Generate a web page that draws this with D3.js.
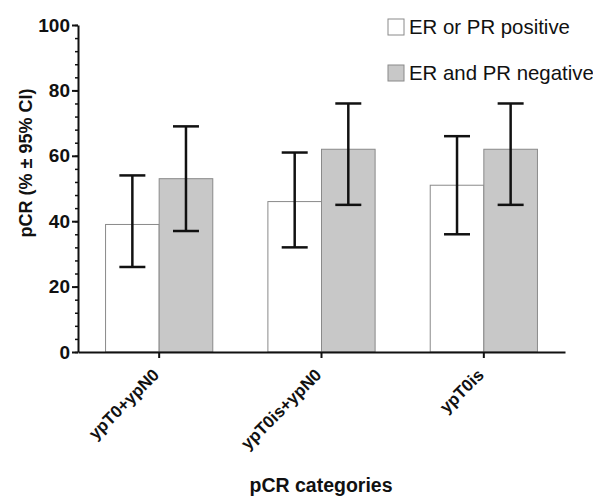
<!DOCTYPE html>
<html>
<head>
<meta charset="utf-8">
<script src="https://cdn.jsdelivr.net/npm/d3@7"></script>
<style>
  body { margin: 0; background: #fff; }
  svg { display: block; font-family: "Liberation Sans", Arial, sans-serif; }
</style>
</head>
<body>
<svg id="chart" width="593" height="496"></svg>
<script>
const categories = ["ypT0+ypN0", "ypT0is+ypN0", "ypT0is"];
const seriesNames = ["ER or PR positive", "ER and PR negative"];
const positiveValues = [39, 46, 51];
const positiveLower = [26, 32, 36];
const positiveUpper = [54, 61, 66];
const negativeValues = [53, 62, 62];
const negativeLower = [37, 45, 45];
const negativeUpper = [69, 76, 76];
const yTicks = [0, 20, 40, 60, 80, 100];
const yMinorTicks = d3.range(0, 101, 4);
const seriesColors = ["#ffffff", "#c8c8c8"];

const svg = d3.select("#chart");
const plotLeft = 78, plotRight = 565, plotTop = 25, plotBottom = 352;

const y = d3.scaleLinear().domain([0, 100]).range([plotBottom, plotTop]);
const x0 = d3.scaleBand().domain(categories).range([plotLeft, plotRight]).paddingInner(0).paddingOuter(0);
const x1 = d3.scaleBand().domain(seriesNames).range([0, x0.bandwidth()]).paddingInner(0).paddingOuter(0.514);

const rows = categories.map((c, i) => ({
  cat: c,
  items: [
    { s: seriesNames[0], v: positiveValues[i], lo: positiveLower[i], hi: positiveUpper[i], color: seriesColors[0] },
    { s: seriesNames[1], v: negativeValues[i], lo: negativeLower[i], hi: negativeUpper[i], color: seriesColors[1] }
  ]
}));

// bars
const g = svg.append("g");
const groups = g.selectAll("g.grp").data(rows).join("g")
  .attr("transform", d => `translate(${x0(d.cat)},0)`);
groups.selectAll("rect").data(d => d.items).join("rect")
  .attr("x", d => x1(d.s))
  .attr("width", x1.bandwidth())
  .attr("y", d => y(d.v))
  .attr("height", d => y(0) - y(d.v))
  .attr("fill", d => d.color)
  .attr("stroke", "#8a8a8a")
  .attr("stroke-width", 1);

// error bars
const cap = 13;
const eb = groups.selectAll("g.eb").data(d => d.items).join("g")
  .attr("stroke", "#111").attr("stroke-width", 2.5).attr("fill", "none");
eb.append("line")
  .attr("x1", d => x1(d.s) + x1.bandwidth() / 2).attr("x2", d => x1(d.s) + x1.bandwidth() / 2)
  .attr("y1", d => y(d.lo)).attr("y2", d => y(d.hi));
eb.append("line")
  .attr("x1", d => x1(d.s) + x1.bandwidth() / 2 - cap).attr("x2", d => x1(d.s) + x1.bandwidth() / 2 + cap)
  .attr("y1", d => y(d.hi)).attr("y2", d => y(d.hi));
eb.append("line")
  .attr("x1", d => x1(d.s) + x1.bandwidth() / 2 - cap).attr("x2", d => x1(d.s) + x1.bandwidth() / 2 + cap)
  .attr("y1", d => y(d.lo)).attr("y2", d => y(d.lo));

// y axis minor ticks
const yMinor = svg.append("g").attr("transform", `translate(${plotLeft},0)`)
  .call(d3.axisLeft(y).tickValues(yMinorTicks).tickSize(3).tickFormat(""));
yMinor.select(".domain").remove();
yMinor.selectAll("line").attr("stroke", "#111").attr("stroke-width", 1.5);

// y axis major
const yAxis = svg.append("g").attr("transform", `translate(${plotLeft},0)`)
  .call(d3.axisLeft(y).tickValues(yTicks).tickSize(6).tickPadding(2).tickSizeOuter(0));
yAxis.select(".domain").attr("stroke", "#111").attr("stroke-width", 2);
yAxis.selectAll(".tick line").attr("stroke", "#111").attr("stroke-width", 2);
yAxis.selectAll(".tick text").attr("font-size", 19).attr("font-weight", "bold")
  .attr("font-family", "Liberation Sans, Arial, sans-serif").attr("fill", "#111");

// x axis
const xAxis = svg.append("g").attr("transform", `translate(0,${plotBottom})`)
  .call(d3.axisBottom(x0).tickSize(6).tickSizeOuter(0).tickFormat(""));
xAxis.select(".domain").attr("stroke", "#111").attr("stroke-width", 2);
xAxis.selectAll(".tick line").attr("stroke", "#111").attr("stroke-width", 2);

svg.append("g").selectAll("text").data(categories).join("text")
  .attr("transform", d => `translate(${x0(d) + x0.bandwidth() / 2 + 1},${plotBottom + 24}) rotate(-45)`)
  .attr("text-anchor", "end")
  .attr("font-size", 17).attr("font-weight", "bold").attr("fill", "#111")
  .text(d => d);

// axis titles
svg.append("text")
  .attr("transform", `translate(32,163) rotate(-90)`)
  .attr("text-anchor", "middle")
  .attr("font-size", 18).attr("font-weight", "bold").attr("fill", "#111")
  .text("pCR (% \u00B1 95% CI)");

svg.append("text")
  .attr("x", 321).attr("y", 492)
  .attr("text-anchor", "middle")
  .attr("font-size", 19.5).attr("font-weight", "bold").attr("fill", "#111")
  .text("pCR categories");

// legend
const legend = svg.append("g").selectAll("g").data(seriesNames).join("g")
  .attr("transform", (d, i) => `translate(388,${19 + i * 46})`);
legend.append("rect")
  .attr("width", 16).attr("height", 16)
  .attr("fill", (d, i) => seriesColors[i])
  .attr("stroke", "#8a8a8a").attr("stroke-width", 1);
legend.append("text")
  .attr("x", 21).attr("y", 15)
  .attr("font-size", 20.4).attr("fill", "#111")
  .text(d => d);
</script>
</body>
</html>
